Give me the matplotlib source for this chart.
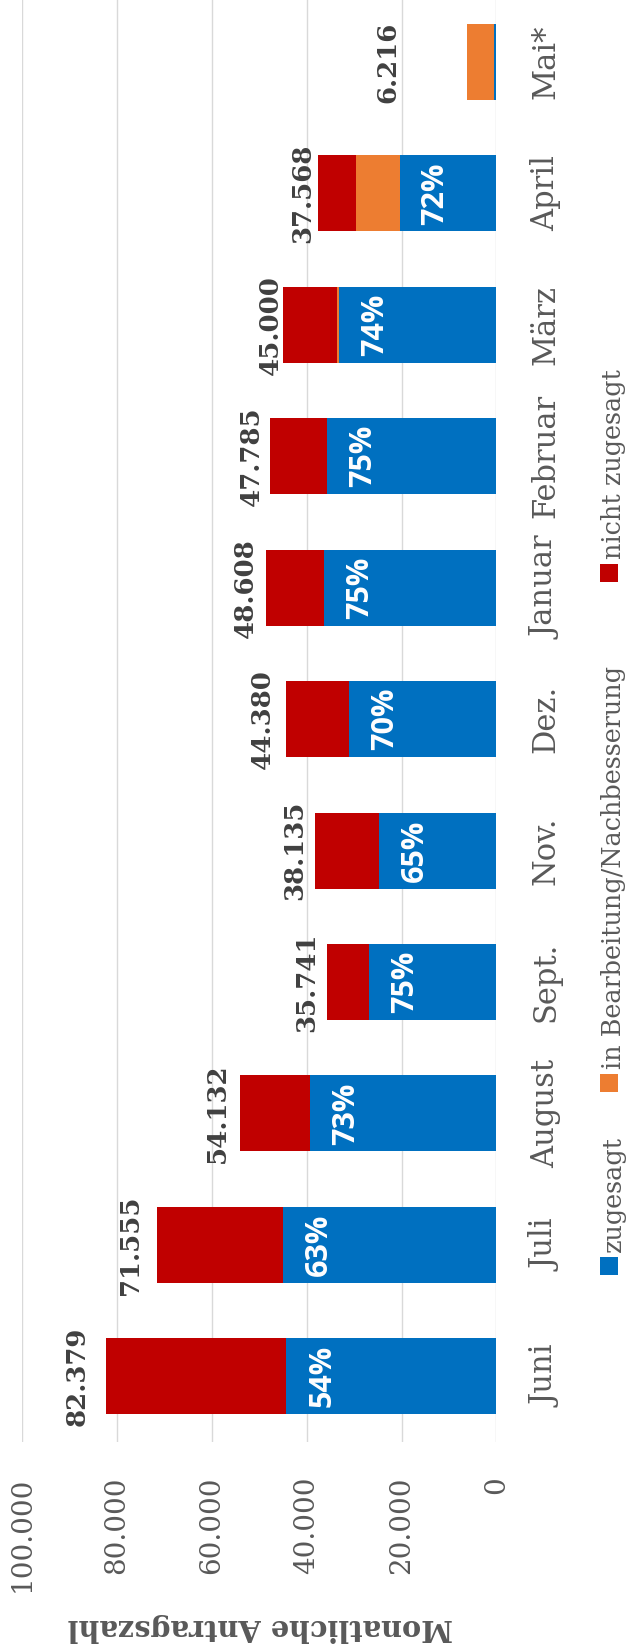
import matplotlib
matplotlib.use('Agg')
import matplotlib.pyplot as plt
from matplotlib.patches import Rectangle
import numpy as np

# ---------------- data ----------------
categories = ['Juni', 'Juli', 'August', 'Sept.', 'Nov.', 'Dez.', 'Januar',
              'Februar', 'März', 'April', 'Mai*']
zugesagt = [44300, 45000, 39300, 26750, 24800, 31050, 36300, 35750, 33250, 20400, 500]
in_bearbeitung = [100, 50, 50, 50, 50, 50, 50, 50, 300, 9150, 5600]
nicht_zugesagt = [37979, 26505, 14782, 8941, 13285, 13280, 12258, 11985, 11450, 8018, 116]
totals = [82379, 71555, 54132, 35741, 38135, 44380, 48608, 47785, 45000, 37568, 6216]
quote_labels = ['54%', '63%', '73%', '75%', '65%', '70%', '75%', '75%', '74%', '72%', '']
series_names = ['zugesagt', 'in Bearbeitung/Nachbesserung', 'nicht zugesagt']
value_ticks = [0, 20000, 40000, 60000, 80000, 100000]
axis_title = 'Monatliche Antragszahl'

# ---------------- style ----------------
BLUE, ORANGE, RED = '#0070C0', '#ED7D31', '#C00000'
GREY = '#595959'
DARK = '#404040'
SERIF = 'DejaVu Serif'
total_gap_px = [16, 14, 10, 8, 8, 11, 8, 6, 0, 3, 67]

W, H = 627, 1651
fig = plt.figure(figsize=(W / 100, H / 100), dpi=100)
fig.patch.set_facecolor('white')

def fx(px):
    return px / W

def fy(py):
    return (H - py) / H

left_px, right_px, top_px, bottom_px = 22, 496.4, -3.7, 1442
ax = fig.add_axes([fx(left_px), fy(bottom_px), fx(right_px - left_px),
                   (bottom_px - top_px) / H])

idx = np.arange(len(categories))
zug = np.array(zugesagt)
bea = np.array(in_bearbeitung)
nic = np.array(nicht_zugesagt)
bh = 0.578
ax.barh(idx, zug, height=bh, color=BLUE, zorder=2)
ax.barh(idx, bea, left=zug, height=bh, color=ORANGE, zorder=2)
ax.barh(idx, nic, left=zug + bea, height=bh, color=RED, zorder=2)

ax.set_xlim(100000, 0)
ax.set_ylim(-0.5, len(categories) - 0.5)
ax.set_axisbelow(True)
ax.grid(axis='x', color='#D9D9D9', linewidth=1.0)
ax.grid(axis='y', visible=False)
for s in ax.spines.values():
    s.set_visible(False)

def de_fmt(v):
    return f'{v:,}'.replace(',', '.')

ax.set_xticks(value_ticks, labels=[de_fmt(v) for v in value_ticks])
ax.tick_params(axis='x', length=0, pad=25, labelsize=20, labelcolor=GREY)
for lbl in ax.get_xticklabels():
    lbl.set_rotation(90)
    lbl.set_va('top')
    lbl.set_ha('center')
    lbl.set_family(SERIF)

ax.yaxis.tick_right()
ax.set_yticks(idx, labels=categories)
ax.tick_params(axis='y', length=0, pad=24.5, labelsize=22, labelcolor=GREY)
for lbl in ax.get_yticklabels():
    lbl.set_rotation(90)
    lbl.set_va('center')
    lbl.set_ha('left')
    lbl.set_family(SERIF)

# totals
for i, t in enumerate(totals):
    ax.annotate(de_fmt(t), xy=(t, i), xytext=(-total_gap_px[i], 0),
                textcoords='offset pixels', rotation=90, ha='right', va='center',
                fontsize=18.7, fontweight='bold', color=DARK, family=SERIF)

# quotes
for i, q in enumerate(quote_labels):
    if q:
        ax.annotate(q, xy=(zug[i], i), xytext=(36, 0), textcoords='offset pixels',
                    rotation=90, ha='center', va='center', fontsize=22,
                    fontweight='bold', color='white', family='Open Sans')

# axis title (upside down)
fig.text(fx(260), fy(1627), axis_title, rotation=180, ha='center', va='center',
         fontsize=20.7, fontweight='bold', color=GREY, family=SERIF)

# legend (vertical, rotated)
legend_colors = [BLUE, ORANGE, RED]
legend_sq_bottom = [1275, 1092, 582]
sq = 18
for name, col, yb in zip(series_names, legend_colors, legend_sq_bottom):
    fig.add_artist(Rectangle((fx(600), fy(yb)), fx(sq), sq / H,
                             transform=fig.transFigure, facecolor=col,
                             edgecolor='none'))
    fig.text(fx(613), fy(yb - sq - 5), name, rotation=90, ha='center', va='bottom',
             fontsize=18.4, color=GREY, family=SERIF)

fig.savefig('out.png', dpi=100, facecolor='white')
